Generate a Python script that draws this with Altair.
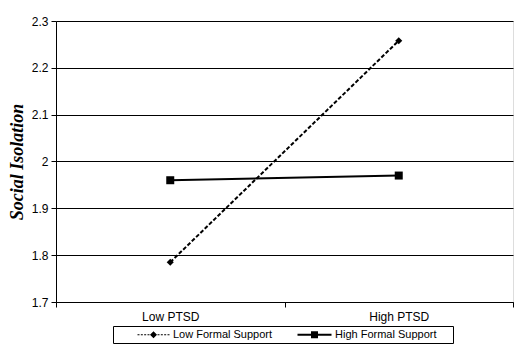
import altair as alt
import pandas as pd

ptsd = ["Low PTSD", "High PTSD"]
series_names = ["Low Formal Support", "High Formal Support"]
low_support = [1.785, 2.258]
high_support = [1.96, 1.97]
y_ticks = [1.7, 1.8, 1.9, 2.0, 2.1, 2.2, 2.3]

rows = []
for i, p in enumerate(ptsd):
    rows.append({"ptsd": p, "series": series_names[0], "value": low_support[i]})
    rows.append({"ptsd": p, "series": series_names[1], "value": high_support[i]})
df = pd.DataFrame(rows)

# legend symbol geometry: small nominal symbol box, path drawn in pixels
S = 10.0
K = S / 2.0


def u(px):
    return px / K


def rect(x0, x1, h):
    return f"M{u(x0):.4f},{u(-h):.4f}H{u(x1):.4f}V{u(h):.4f}H{u(x0):.4f}Z"


def diamond(cx, r):
    return (f"M{u(cx - r):.4f},0L{u(cx):.4f},{u(-r):.4f}"
            f"L{u(cx + r):.4f},0L{u(cx):.4f},{u(r):.4f}Z")


p1 = ""
for a, b in [(16, 18), (19.33, 21.33), (22.67, 24.67), (26, 28),
             (36, 38), (39.33, 41.33), (42.67, 44.67), (46, 48)]:
    p1 += rect(a, b, 0.5)
p1 += diamond(32, 3.5)

p2 = rect(14, 48, 1.0) + rect(27.5, 34.5, 3.5) + f"M{u(166):.4f},0"

font = "Liberation Sans"

x_enc = alt.X(
    "ptsd:N", sort=ptsd,
    scale=alt.Scale(type="band", paddingInner=0, paddingOuter=0),
    axis=alt.Axis(title=None, labelAngle=0, tickBand="extent", tickSize=5,
                  tickColor="black", domainColor="black", labelColor="black",
                  labelFont=font, labelFontSize=12, labelPadding=4, grid=False),
)
y_enc = alt.Y(
    "value:Q",
    scale=alt.Scale(domain=[1.7, 2.3], nice=False, zero=False),
    axis=alt.Axis(values=y_ticks, format=".2~f", title="Social Isolation",
                  titleFont="Liberation Serif", titleFontSize=18,
                  titleFontStyle="italic", titleFontWeight="bold",
                  titleColor="black", titlePadding=5,
                  grid=True, gridColor="black", gridOpacity=1, gridWidth=1,
                  tickColor="black", tickSize=5, domainColor="black",
                  labelColor="black", labelFont=font, labelFontSize=12,
                  labelPadding=3),
)

base = alt.Chart(df)
low_f = alt.datum.series == series_names[0]
high_f = alt.datum.series == series_names[1]

line_low = base.transform_filter(low_f).mark_line(
    color="black", strokeWidth=2, strokeDash=[4, 2]).encode(x=x_enc, y=y_enc)
line_high = base.transform_filter(high_f).mark_line(
    color="black", strokeWidth=2).encode(x=x_enc, y=y_enc)
pt_low = base.transform_filter(low_f).mark_point(
    shape="diamond", filled=True, color="black", opacity=1, size=50
).encode(x=x_enc, y=y_enc)
pt_high = base.transform_filter(high_f).mark_point(
    shape="square", filled=True, color="black", opacity=1, size=64
).encode(x=x_enc, y=y_enc)

legend_layer = base.transform_filter("false").mark_point(
    filled=True, color="black", opacity=1
).encode(
    x=x_enc, y=y_enc,
    shape=alt.Shape(
        "series:N",
        scale=alt.Scale(domain=series_names, range=[p1, p2]),
        legend=alt.Legend(
            orient="none", legendX=57, legendY=305, direction="horizontal",
            title=None, strokeColor="black", padding=3, cornerRadius=0,
            fillColor="white", symbolSize=S * S, symbolStrokeWidth=0,
            symbolFillColor="black", labelFont=font, labelFontSize=11,
            labelColor="black", labelOffset=46, columnPadding=5,
        ),
    ),
)

chart = alt.layer(line_low, line_high, pt_low, pt_high, legend_layer).properties(
    width=457, height=281,
    autosize=alt.AutoSizeParams(type="none"),
    padding={"left": 48, "top": 13, "right": 9, "bottom": 42},
).configure_view(stroke="black", strokeWidth=1).configure(background="white")

chart.save("out.html", embed_options={"renderer": "svg", "actions": False})
